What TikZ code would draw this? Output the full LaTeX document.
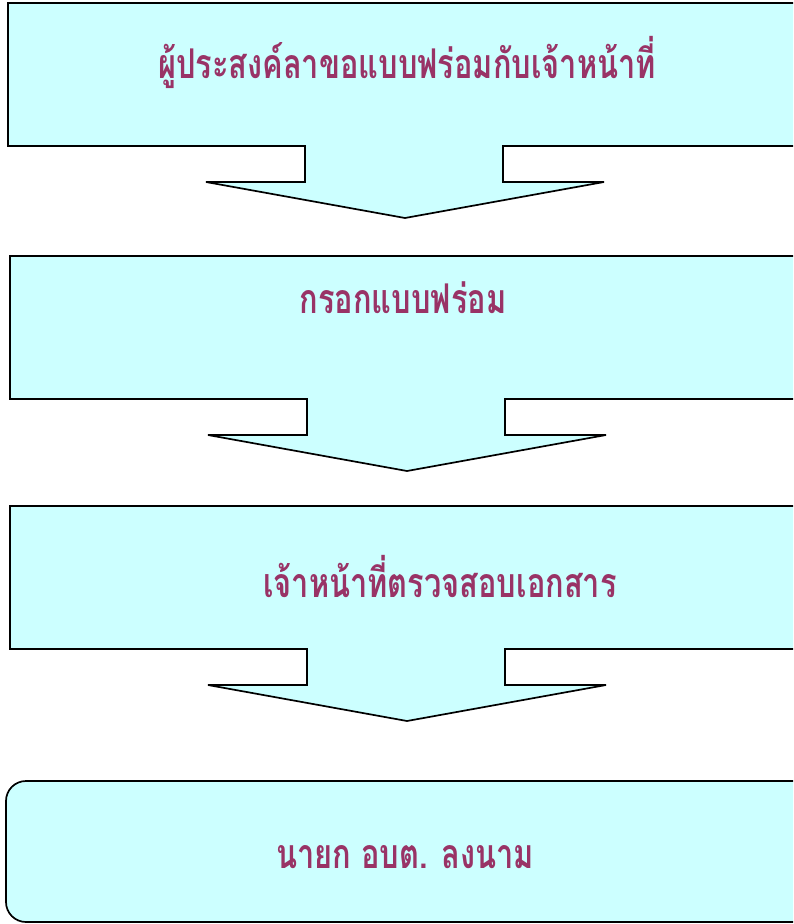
\documentclass[tikz,border=0pt]{standalone}
\usepackage{fontspec}
\newfontfamily\thaifont[Script=Thai,FakeStretch=0.75]{Loma}
\usetikzlibrary{positioning}
\definecolor{boxfill}{HTML}{CCFFFF}
\definecolor{steptext}{HTML}{993366}
\tikzset{
  calloutbox/.style={draw=black, fill=boxfill, line width=1.7pt, line join=miter},
  steplabel/.style={text=steptext, inner sep=0pt, font=\thaifont\bfseries\fontsize{41}{48}\selectfont}
}
\begin{document}
\begin{tikzpicture}[x=1pt,y=-1pt]
\useasboundingbox (0,0) rectangle (793,924);
\clip (0,0) rectangle (793,924);
% callout boxes with down arrows
\foreach \l/\t in {8/3, 10/256, 10/506}{
  \draw[calloutbox] (\l,\t) -- (820,\t) -- (820,\t+143) -- (\l+495,\t+143)
    -- (\l+495,\t+179) -- (\l+596,\t+179) -- (\l+397,\t+215) -- (\l+198,\t+179)
    -- (\l+297,\t+179) -- (\l+297,\t+143) -- (\l,\t+143) -- cycle;
}
% last box
\draw[calloutbox, rounded corners=20pt] (6,781) rectangle (830,922);
\node[steplabel] (request) at (407,62) {ผู้ประสงค์ลาขอแบบฟร่อมกับเจ้าหน้าที่};
\node[steplabel] (fillform) at (403,298) {กรอกแบบฟร่อม};
\node[steplabel] (check) at (440,577) {เจ้าหน้าที่ตรวจสอบเอกสาร};
\node[steplabel] (sign) at (405,857) {นายก อบต. ลงนาม};
\end{tikzpicture}
\end{document}
